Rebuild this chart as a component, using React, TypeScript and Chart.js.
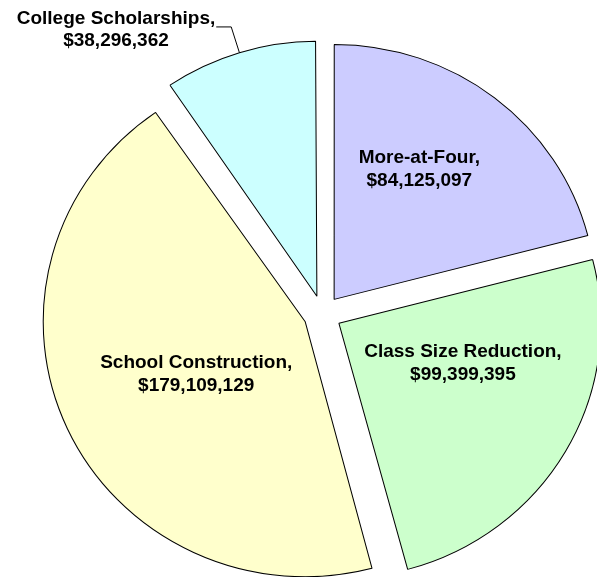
import React, { useEffect, useRef } from 'react';
import { Chart, registerables } from 'chart.js';

Chart.register(...registerables);

// ---- data ----
const categories = ['More-at-Four', 'Class Size Reduction', 'School Construction', 'College Scholarships'];
const amounts = [84125097, 99399395, 179109129, 38296362];
const sliceColors = ['#CCCCFF', '#CCFFCC', '#FFFFCC', '#CCFFFF'];

// ---- label placement (fraction of radius, angular shift in degrees, outside?) ----
const labelRadial = [0.604, 0.498, 0.465, 1];
const labelAngleShift = [-5.2, -12, -1.7, 0];
const labelOutside = [false, false, false, true];

const EXPLODE = 74; // Chart.js arc offset (drawn translation = offset / 4)
const X_STRETCH = 1.0275; // the reference pie is slightly wider than tall
const FONT = 'bold 19px "Liberation Sans", Arial, sans-serif';
const LINE_GAP = 23;

const fmt = (v: number) => '$' + v.toLocaleString('en-US');

const pieShape = {
  id: 'pieShape',
  beforeDatasetDraw(chart: any, args: any) {
    const meta = chart.getDatasetMeta(args.index);
    const ctrl: any = meta.controller;
    const R = ctrl.outerRadius;
    meta.data.forEach((arc: any) => {
      const off = (arc.options.offset || 0) / 4;
      const fix = 1 - Math.sin(Math.min(Math.PI, arc.circumference || 0));
      arc.outerRadius = R - off * fix;
    });
    const a: any = meta.data[0];
    const ctx = chart.ctx;
    ctx.save();
    ctx.translate(a.x, a.y);
    ctx.scale(X_STRETCH, 1);
    ctx.translate(-a.x, -a.y);
  },
  afterDatasetDraw(chart: any) {
    chart.ctx.restore();
  },
};

const pieLabels = {
  id: 'pieLabels',
  afterDatasetsDraw(chart: any) {
    const meta = chart.getDatasetMeta(0);
    const ctrl: any = meta.controller;
    const R = ctrl.outerRadius;
    const ctx = chart.ctx;
    ctx.save();
    ctx.font = FONT;
    ctx.fillStyle = '#000000';
    ctx.textBaseline = 'middle';
    ctx.textAlign = 'center';
    meta.data.forEach((arc: any, i: number) => {
      const mid = (arc.startAngle + arc.endAngle) / 2;
      const off = (arc.options.offset || 0) / 4;
      const vx = arc.x + X_STRETCH * Math.cos(mid) * off;
      const vy = arc.y + Math.sin(mid) * off;
      const pt = (ang: number, r: number) => ({
        x: vx + X_STRETCH * r * Math.cos(ang),
        y: vy + r * Math.sin(ang),
      });
      const line1 = categories[i] + ',';
      const line2 = fmt(amounts[i]);
      if (!labelOutside[i]) {
        const p = pt(mid + (labelAngleShift[i] * Math.PI) / 180, labelRadial[i] * R);
        ctx.fillText(line1, p.x, p.y - LINE_GAP / 2);
        ctx.fillText(line2, p.x, p.y + LINE_GAP / 2);
      } else {
        const p = pt(mid, R * labelRadial[i]);
        const e = pt(mid, R * labelRadial[i] + 27);
        const endX = e.x - 15;
        ctx.strokeStyle = '#000000';
        ctx.lineWidth = 1;
        ctx.beginPath();
        ctx.moveTo(p.x, p.y);
        ctx.lineTo(e.x, e.y);
        ctx.lineTo(endX, e.y);
        ctx.stroke();
        const w1 = ctx.measureText(line1).width;
        const cx = endX - 1 - w1 / 2;
        ctx.fillText(line1, cx, e.y - 8);
        ctx.fillText(line2, cx, e.y + 14);
      }
    });
    ctx.restore();
  },
};

export default function App() {
  const canvasRef = useRef<HTMLCanvasElement | null>(null);

  useEffect(() => {
    if (!canvasRef.current) return;
    const chart = new Chart(canvasRef.current, {
      type: 'pie',
      data: {
        labels: categories,
        datasets: [
          {
            data: amounts,
            backgroundColor: sliceColors,
            borderColor: '#000000',
            borderWidth: 1,
            offset: EXPLODE,
          },
        ],
      },
      options: {
        animation: false,
        responsive: true,
        maintainAspectRatio: false,
        radius: 255,
        layout: { padding: { left: 48, right: 0, top: 51, bottom: 0 } },
        plugins: {
          legend: { display: false },
          tooltip: { enabled: false },
        },
      } as any,
      plugins: [pieShape, pieLabels],
    });
    return () => chart.destroy();
  }, []);

  return (
    <div style={{ position: 'absolute', left: 0, top: 0, width: 597, height: 577, background: '#ffffff' }}>
      <canvas ref={canvasRef} />
    </div>
  );
}
